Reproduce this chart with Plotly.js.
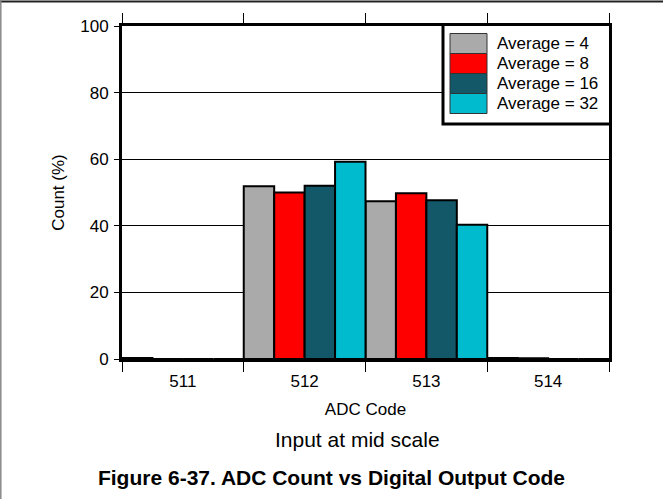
<!DOCTYPE html>
<html>
<head>
<meta charset="utf-8">
<script src="https://cdn.plot.ly/plotly-3.0.1.min.js"></script>
<style>
html,body{margin:0;padding:0;background:#fff;}
#chart{width:663px;height:499px;}
</style>
</head>
<body>
<div id="chart"></div>
<script>
// ---- data ----
const codes = ['511', '512', '513', '514'];
const seriesNames = ['Average = 4', 'Average = 8', 'Average = 16', 'Average = 32'];
const avg4  = [0.3, 51.9, 47.4, 0.3];
const avg8  = [0.0, 50.0, 49.8, 0.2];
const avg16 = [0.0, 52.0, 47.7, 0.0];
const avg32 = [0.0, 59.2, 40.3, 0.0];
const yTicks = [0, 20, 40, 60, 80, 100];

const colors = ['#AAAAAA', '#FF0000', '#135868', '#00BACD'];
const allSeries = [avg4, avg8, avg16, avg32];

const FONT = '"Liberation Sans", Arial, Helvetica, sans-serif';
const W = 663, H = 499;
const L = 122, R = 609, T = 26, B = 359;
const px2x = p => (p - L) / (R - L);
const px2y = p => (B - p) / (B - T);

const traces = allSeries.map((vals, i) => ({
  type: 'bar',
  name: seriesNames[i],
  x: codes,
  y: vals,
  marker: {color: colors[i], line: {color: '#000', width: 2}},
  hoverinfo: 'skip',
  showlegend: false
}));

// custom legend (large swatches as in the reference)
const shapes = [];
const annotations = [];
shapes.push({type: 'rect', xref: 'paper', yref: 'paper',
  x0: px2x(443), x1: px2x(610.5), y0: px2y(124), y1: px2y(24.5),
  line: {color: '#000', width: 3}, fillcolor: '#fff', layer: 'above'});
seriesNames.forEach((n, i) => {
  const top = 33.5 + 20 * i, bot = top + 20;
  shapes.push({type: 'rect', xref: 'paper', yref: 'paper',
    x0: px2x(450), x1: px2x(487), y0: px2y(bot), y1: px2y(top),
    line: {color: '#333', width: 1}, fillcolor: colors[i], layer: 'above'});
  annotations.push({xref: 'paper', yref: 'paper', x: px2x(495), y: px2y((top + bot) / 2),
    xanchor: 'left', yanchor: 'middle', showarrow: false, text: n,
    font: {family: FONT, size: 17, color: '#000'}});
});
// frame lines of the figure
shapes.push({type: 'line', xref: 'paper', yref: 'paper',
  x0: px2x(0), x1: px2x(W), y0: px2y(1.5), y1: px2y(1.5),
  line: {color: '#222', width: 2}});
shapes.push({type: 'line', xref: 'paper', yref: 'paper',
  x0: px2x(0.8), x1: px2x(0.8), y0: px2y(0), y1: px2y(H),
  line: {color: '#888', width: 1.5}});

annotations.push({xref: 'paper', yref: 'paper', x: px2x(357), y: px2y(439),
  xanchor: 'center', yanchor: 'middle', showarrow: false, text: 'Input at mid scale',
  font: {family: FONT, size: 21, color: '#000'}});

const layout = {
  width: W, height: H,
  margin: {l: L, r: W - R, t: T, b: H - B, pad: 0},
  paper_bgcolor: '#fff', plot_bgcolor: '#fff',
  font: {family: FONT, size: 17, color: '#000'},
  barmode: 'group', bargap: 0, bargroupgap: 0,
  title: {text: '<b>Figure 6-37. ADC Count vs Digital Output Code</b>',
    font: {family: FONT, size: 21, color: '#000'},
    x: 0.5, xref: 'container', xanchor: 'center',
    y: 1 - 478 / H, yref: 'container', yanchor: 'middle'},
  xaxis: {type: 'category', categoryorder: 'array', categoryarray: codes,
    tickson: 'boundaries', ticks: 'outside', ticklen: 10, tickwidth: 1, tickcolor: '#000',
    ticklabelstandoff: 5,
    showgrid: false, zeroline: false,
    showline: true, linecolor: '#000', linewidth: 3, mirror: 'ticks',
    tickfont: {family: FONT, size: 17, color: '#000'},
    title: {text: 'ADC Code', font: {family: FONT, size: 17, color: '#000'}, standoff: 13}},
  yaxis: {range: [0, 100], tickvals: yTicks, ticks: 'outside', ticklen: 5, tickwidth: 1, tickcolor: '#000',
    ticklabelstandoff: 2,
    showgrid: true, gridcolor: '#000', gridwidth: 1, zeroline: false,
    showline: true, linecolor: '#000', linewidth: 3, mirror: true,
    tickfont: {family: FONT, size: 17, color: '#000'},
    title: {text: 'Count (%)', font: {family: FONT, size: 17, color: '#000'}, standoff: 12}},
  shapes: shapes,
  annotations: annotations
};

Plotly.newPlot('chart', traces, layout, {displayModeBar: false, staticPlot: true});
</script>
</body>
</html>
